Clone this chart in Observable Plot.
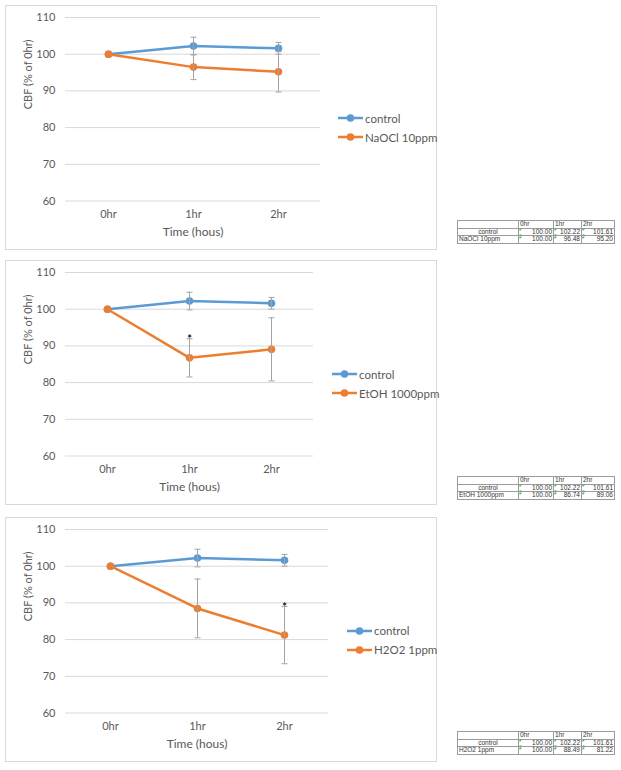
<!DOCTYPE html>
<html><head><meta charset="utf-8">
<script src="https://cdn.jsdelivr.net/npm/d3@7"></script>
<script src="https://cdn.jsdelivr.net/npm/@observablehq/plot@0.6"></script>
<style>
body{margin:0;background:#fff;font-family:Lato,sans-serif;}
#root{position:relative;width:621px;height:770px;overflow:hidden;background:#fff}
.panel{position:absolute;left:5px;width:432px;height:245px}
.panel svg{position:absolute;left:0;top:0}
.frame{position:absolute;left:0;top:0;width:432px;height:245px;border:1px solid #d9d9d9;box-sizing:border-box;pointer-events:none}
.legend{position:absolute;font-size:11.5px;color:#595959;font-family:Lato,sans-serif}
.legend div{display:flex;align-items:center;height:19px;white-space:nowrap}
.legend svg{position:static;margin-right:2px}
table.t{position:absolute;left:457px;border-collapse:collapse;font-family:"Liberation Sans",Arial,sans-serif;font-size:6.5px;color:#333;table-layout:fixed;width:157px}
table.t td{border:1px solid #9a9a9a;height:6.5px;padding:0 1px;line-height:6.5px;overflow:hidden;white-space:nowrap}
table.t td.n{text-align:right;background:linear-gradient(135deg,#2f9a2f 0,#2f9a2f 2px,transparent 2px)}
table.t td.c{text-align:center}
</style>
</head><body><div id="root"></div>
<script>
// ---- data ----
const times = ["0hr", "1hr", "2hr"];
const yTicks = [60, 70, 80, 90, 100, 110];
const controlMean = [100.00, 102.22, 101.61];
const controlErr = [0, 2.4, 1.6];
const naoclMean = [100.00, 96.48, 95.20];
const naoclErr = [0, 3.4, 5.5];
const etohMean = [100.00, 86.74, 89.06];
const etohErr = [0, 5.2, 8.6];
const h2o2Mean = [100.00, 88.49, 81.22];
const h2o2Err = [0, 8.0, 7.8];
const treatmentNames = ["NaOCl 10ppm", "EtOH 1000ppm", "H2O2 1ppm"];
const significant = [[], ["1hr"], ["2hr"]];
const yLabel = "CBF (% of 0hr)";
const xLabel = "Time (hous)";

// ---- layout ----
const panels = [
  {mean: naoclMean, err: naoclErr, name: treatmentNames[0], sig: significant[0], top: 5, mr: 117, legL: 333, legT: 103.5, tableTop: 220},
  {mean: etohMean, err: etohErr, name: treatmentNames[1], sig: significant[1], top: 260, mr: 124, legL: 327, legT: 104.5, tableTop: 476},
  {mean: h2o2Mean, err: h2o2Err, name: treatmentNames[2], sig: significant[2], top: 517, mr: 109, legL: 342, legT: 104, tableTop: 731}
];
const BLUE = "#5b9bd5", ORANGE = "#ed7d31", GREY = "#595959", ERR = "#a3a3a3";
const capSymbol = {draw(ctx) { ctx.moveTo(-3, 0); ctx.lineTo(3, 0); }};
const root = document.getElementById("root");

function makeChart(p) {
  const rows = [];
  times.forEach((t, i) => rows.push({series: "control", time: t, v: controlMean[i], e: controlErr[i]}));
  times.forEach((t, i) => rows.push({series: p.name, time: t, v: p.mean[i], e: p.err[i]}));
  const errRows = rows.filter(d => d.e > 0);
  const stars = rows.filter(d => d.series === p.name && p.sig.includes(d.time));
  return Plot.plot({
    width: 432, height: 245,
    marginLeft: 60, marginRight: p.mr, marginTop: 12, marginBottom: 49.5,
    style: {fontFamily: "Lato, sans-serif", fontSize: "11px", color: GREY, background: "transparent", overflow: "visible"},
    x: {type: "point", domain: times, padding: 0.5, label: null},
    y: {domain: [60, 110], label: null},
    color: {domain: ["control", p.name], range: [BLUE, ORANGE]},
    marks: [
      Plot.gridY(yTicks, {stroke: "#d9d9d9", strokeOpacity: 1}),
      Plot.axisY(yTicks, {tickSize: 0, tickPadding: 10, fill: GREY, fontSize: 11, label: null}),
      Plot.axisX({tickSize: 0, tickPadding: 9, fill: GREY, fontSize: 11, label: null}),
      Plot.text([yLabel], {frameAnchor: "left", dx: -37, rotate: -90, fill: GREY, fontSize: 11}),
      Plot.text([xLabel], {frameAnchor: "bottom", dy: 35, fill: GREY, fontSize: 12}),
      Plot.line(rows, {x: "time", y: "v", z: "series", stroke: "series", strokeWidth: 2.5}),
      Plot.dot(rows, {x: "time", y: "v", fill: "series", r: 3.8}),
      Plot.ruleX(errRows, {x: "time", y1: d => d.v - d.e, y2: d => d.v + d.e, stroke: ERR, strokeWidth: 1}),
      Plot.dot(errRows, {x: "time", y: d => d.v + d.e, symbol: capSymbol, stroke: ERR, fill: "none", strokeWidth: 1, r: 3}),
      Plot.dot(errRows, {x: "time", y: d => d.v - d.e, symbol: capSymbol, stroke: ERR, fill: "none", strokeWidth: 1, r: 3}),
      Plot.text(stars, {x: "time", y: d => d.v + d.e, text: () => "*", fill: "#111", fontSize: 11, fontWeight: "bold", dy: 1})
    ]
  });
}

function legendItem(color, label) {
  const div = document.createElement("div");
  div.innerHTML = `<svg width="25" height="10"><line x1="0" y1="5" x2="25" y2="5" stroke="${color}" stroke-width="2.5"/><circle cx="12.5" cy="5" r="3.8" fill="${color}"/></svg><span>${label}</span>`;
  return div;
}

function makeTable(p) {
  const t = document.createElement("table");
  t.className = "t";
  t.style.top = p.tableTop + "px";
  const cg = document.createElement("colgroup");
  [61, 35, 28, 33].forEach(w => { const c = document.createElement("col"); c.style.width = w + "px"; cg.appendChild(c); });
  t.appendChild(cg);
  const hr = t.insertRow();
  hr.insertCell().textContent = "";
  times.forEach(tm => { hr.insertCell().textContent = tm; });
  const r1 = t.insertRow();
  const c1 = r1.insertCell(); c1.textContent = "control"; c1.className = "c";
  controlMean.forEach(v => { const c = r1.insertCell(); c.textContent = v.toFixed(2); c.className = "n"; });
  const r2 = t.insertRow();
  r2.insertCell().textContent = p.name;
  p.mean.forEach(v => { const c = r2.insertCell(); c.textContent = v.toFixed(2); c.className = "n"; });
  return t;
}

panels.forEach(p => {
  const panel = document.createElement("div");
  panel.className = "panel";
  panel.style.top = p.top + "px";
  panel.appendChild(makeChart(p));
  const frame = document.createElement("div");
  frame.className = "frame";
  panel.appendChild(frame);
  const leg = document.createElement("div");
  leg.className = "legend";
  leg.style.left = p.legL + "px";
  leg.style.top = p.legT + "px";
  leg.appendChild(legendItem(BLUE, "control"));
  leg.appendChild(legendItem(ORANGE, p.name));
  panel.appendChild(leg);
  root.appendChild(panel);
  root.appendChild(makeTable(p));
});
</script>
</body></html>
